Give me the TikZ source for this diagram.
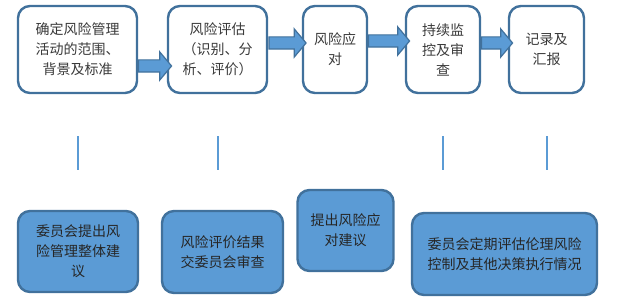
\documentclass[tikz,border=0pt]{standalone}
\usepackage{fontspec}
\usepackage{tikz}
\usetikzlibrary{shapes.arrows,calc}
\newfontfamily\cjk{Noto Sans CJK SC}
\definecolor{RKBlue}{HTML}{5B9BD5}
\definecolor{RKEdge}{HTML}{41719C}
\definecolor{RKText}{HTML}{3A3A3A}

\tikzset{
  stagebox/.style={draw=RKEdge, line width=2.4pt, rounded corners=12pt, fill=white,
    align=center, text=RKText, inner sep=0pt, font=\cjk\fontsize{14}{20}\selectfont},
  notebox/.style={stagebox, fill=RKBlue, text=black!85},
  flowarrow/.style={single arrow, draw=RKEdge, fill=RKBlue, line width=1.2pt,
    inner xsep=0pt, inner ysep=5.5pt, single arrow head extend=8pt,
    single arrow tip angle=100},
  tieline/.style={draw=RKBlue, line width=2pt}
}

\begin{document}
\begin{tikzpicture}[x=1pt,y=-1pt]
\path[use as bounding box] (0,0) rectangle (618,304);
% top row
\node[stagebox, minimum width=119pt, minimum height=87pt] (t1) at (77.5,49.5) {确定风险管理\\活动的范围、\\背景及标准};
\node[stagebox, minimum width=99pt, minimum height=87pt] (t2) at (217.5,49.5) {风险评估\\（识别、分\\析、评价）};
\node[stagebox, minimum width=64pt, minimum height=87pt] (t3) at (335,49.5) {风险应\\对};
\node[stagebox, minimum width=74pt, minimum height=87pt] (t4) at (443,49.5) {持续监\\控及审\\查};
\node[stagebox, minimum width=75pt, minimum height=87pt] (t5) at (546.5,49.5) {记录及\\汇报};
% block arrows
\node[flowarrow, minimum height=33pt, yshift=-16.5pt] (a1) at ($(t1.east)!.5!(t2.west)$) {};
\node[flowarrow, minimum height=37pt, yshift=6.5pt] (a2) at ($(t2.east)!.5!(t3.west)$) {};
\node[flowarrow, minimum height=41pt, yshift=8.5pt] (a3) at ($(t3.east)!.5!(t4.west)$) {};
\node[flowarrow, minimum height=31pt, yshift=6.5pt] (a4) at ($(t4.east)!.5!(t5.west)$) {};
% bottom row
\node[notebox, minimum width=120pt, minimum height=81pt] (b1) at (78,251.5) {委员会提出风\\险管理整体建\\议};
\node[notebox, minimum width=121pt, minimum height=82pt] (b2) at (222.5,252) {风险评价结果\\交委员会审查};
\node[notebox, minimum width=96pt, minimum height=81pt] (b3) at (345.5,230.5) {提出风险应\\对建议};
\node[notebox, minimum width=185pt, minimum height=82pt] (b4) at (504.5,254) {委员会定期评估伦理风险\\控制及其他决策执行情况};
% short ties
\foreach \s in {t1,t2,t4,t5}
  \draw[tieline] ([yshift=-42pt]\s.south) -- ([yshift=-76pt]\s.south);
\end{tikzpicture}
\end{document}
